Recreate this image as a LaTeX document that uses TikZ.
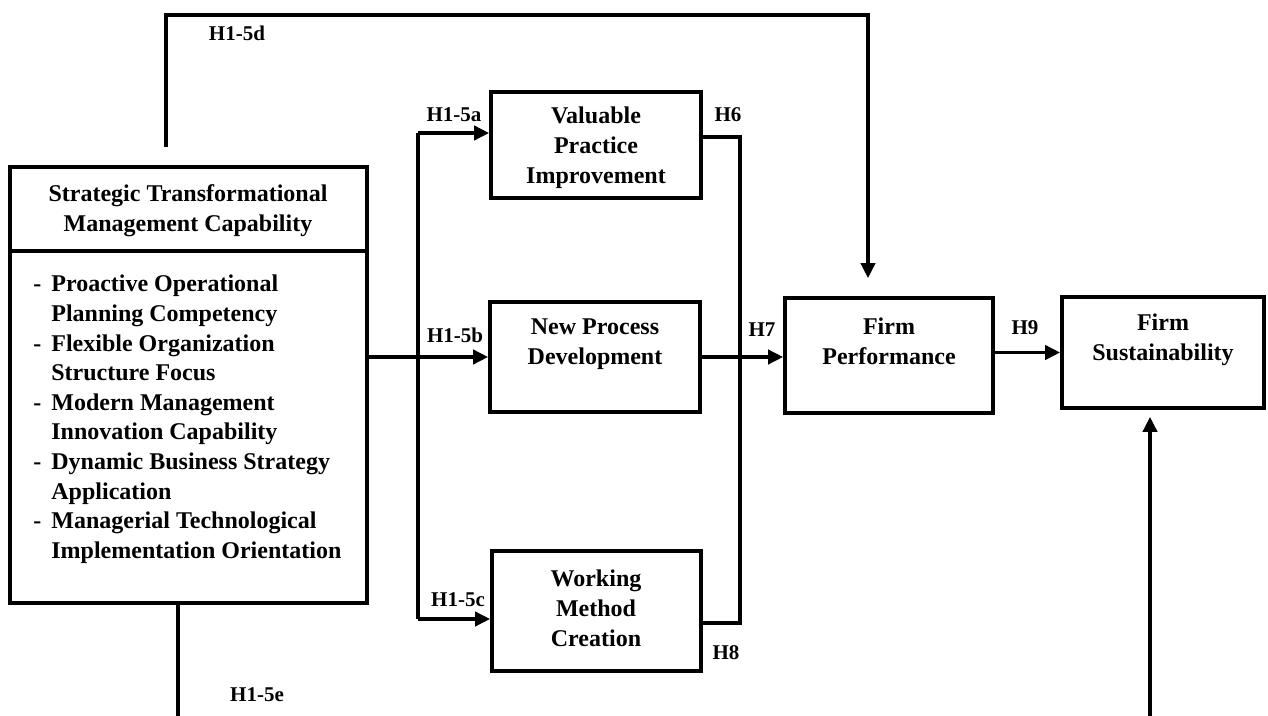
\documentclass[tikz,border=0pt]{standalone}
\usepackage{fontspec}
\setmainfont{Liberation Serif}
\usetikzlibrary{arrows.meta}
\begin{document}
\begin{tikzpicture}
	[x=0.5pt,y=-0.5pt,line join=miter,>={Triangle[length=7.5pt,width=7pt]},
	box/.style={draw,line width=1.8pt,inner sep=0pt},
	txt/.style={align=center,inner sep=0pt,font=\fontsize{12}{15}\selectfont\bfseries},
	hyp/.style={inner sep=0pt,font=\fontsize{10.5}{12}\selectfont\bfseries},
	link/.style={line width=1.8pt}]
	\useasboundingbox (0,0) rectangle (1268,716);
	% boxes
	\node[box,minimum width=178.5pt,minimum height=218pt] (stmc) at (188.5,385) {};
	\node[box,minimum width=105pt,minimum height=53pt] (vpi) at (596,145) {};
	\node[box,minimum width=105pt,minimum height=55pt] (npd) at (595,357) {};
	\node[box,minimum width=104.5pt,minimum height=60pt] (wmc) at (596.5,611) {};
	\node[box,minimum width=104pt,minimum height=57.5pt] (fp) at (889,355.5) {};
	\node[box,minimum width=101pt,minimum height=55.5pt] (fs) at (1163,352.5) {};
	\draw[line width=1.8pt] (stmc.west |- 0,251) -- (stmc.east |- 0,251);
	\node[txt] (stmct) at (188,211) {Strategic Transformational\\Management Capability};
	\node[anchor=base west,inner sep=0pt,font=\fontsize{12}{14.8}\selectfont\bfseries] (stmcl) at (33,292)
	{\begin{tabular}[t]{@{}l@{\hspace{5pt}}l@{}}
		-&Proactive Operational\\ &Planning Competency\\
		-&Flexible Organization\\ &Structure Focus\\
		-&Modern Management\\ &Innovation Capability\\
		-&Dynamic Business Strategy\\ &Application\\
		-&Managerial Technological\\ &Implementation Orientation
	\end{tabular}};
	\node[txt] (vpit) at (596,148) {Valuable\\Practice\\Improvement};
	\node[txt] (npdt) at (595,344) {New Process\\Development};
	\node[txt] (wmct) at (596,608) {Working\\Method\\Creation};
	\node[txt] (fpt) at (889,341) {Firm\\Performance};
	\node[txt] (fst) at (1163,340) {Firm\\Sustainability};
	% hypotheses
	\node[hyp] (h5d) at (237,33) {H1-5d};
	\node[hyp] (h5a) at (454,115) {H1-5a};
	\node[hyp] (h5b) at (455,335) {H1-5b};
	\node[hyp] (h5c) at (458,600) {H1-5c};
	\node[hyp] (h5e) at (257,695) {H1-5e};
	\node[hyp] (h6) at (728,115) {H6};
	\node[hyp] (h7) at (762,330) {H7};
	\node[hyp] (h8) at (726,653) {H8};
	\node[hyp] (h9) at (1025,328) {H9};
	% links
	\coordinate (busa) at (418,133); \coordinate (busc) at (418,619);
	\coordinate (outa) at (740,137); \coordinate (outc) at (740,623);
	\coordinate (topl) at (166,15); \coordinate (topr) at (868,15);
	\coordinate (botl) at (178,716); \coordinate (botr) at (1150,716);
	\draw[link,->] (stmc.east |- npd.west) -- (npd.west);
	\draw[link] (busa) -- (busc);
	\draw[link,->] (busa) -- (busa -| vpi.west);
	\draw[link,->] (busc) -- (busc -| wmc.west);
	\draw[link] (outa -| vpi.east) -- (outa) -- (outc) -- (outc -| wmc.east);
	\draw[link,->] (npd.east) -- (npd.east -| fp.west);
	\draw[link,->] (fp.east |- fs.west) -- (fs.west);
	\draw[link,->,shorten <=9pt,shorten >=9pt] (topl |- stmc.north) -- (topl) -- (topr) -- (topr |- fp.north);
	\draw[link] (stmc.south -| botl) -- (botl);
	\draw[link,->,shorten >=3.5pt] (botr) -- (botr |- fs.south);
\end{tikzpicture}
\end{document}
